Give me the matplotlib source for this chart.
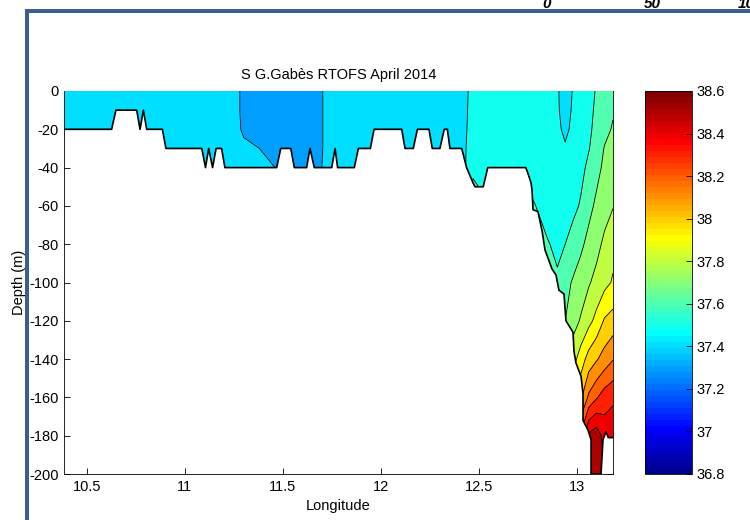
import numpy as np
import matplotlib
matplotlib.use("Agg")
import matplotlib.pyplot as plt
from matplotlib.colors import ListedColormap, Normalize
from matplotlib.patches import Polygon, Rectangle
from matplotlib.cm import ScalarMappable

plt.rcParams['font.family'] = ['Liberation Sans', 'DejaVu Sans']
plt.rcParams['axes.unicode_minus'] = False

# ── Section grid: longitude nodes x depth nodes ──────────────────────────────
lon_nodes = [10.383, 11.0, 11.26, 11.30, 11.40, 11.50, 11.69, 11.72, 12.0, 12.42,
             12.47, 12.60, 12.75, 12.85, 12.90, 12.94, 12.98, 13.02, 13.06, 13.10,
             13.14, 13.184]
depth_nodes = [0, -10, -20, -30, -40, -60, -80, -100, -120, -140, -160, -180, -200]

# salinity, one row per depth node
sal_0    = [37.45, 37.45, 37.45, 37.35, 37.35, 37.35, 37.36, 37.45, 37.45, 37.45, 37.55,
            37.55, 37.54, 37.53, 37.51, 37.46, 37.505, 37.53, 37.56, 37.61, 37.64, 37.67]
sal_10   = [37.45, 37.45, 37.45, 37.35, 37.35, 37.35, 37.36, 37.45, 37.45, 37.46, 37.55,
            37.55, 37.54, 37.53, 37.51, 37.47, 37.51, 37.535, 37.57, 37.62, 37.655, 37.69]
sal_20   = [37.45, 37.45, 37.45, 37.37, 37.35, 37.35, 37.36, 37.45, 37.45, 37.47, 37.55,
            37.55, 37.54, 37.53, 37.52, 37.48, 37.52, 37.545, 37.58, 37.63, 37.67, 37.71]
sal_30   = [37.45, 37.45, 37.45, 37.44, 37.39, 37.35, 37.36, 37.45, 37.45, 37.48, 37.55,
            37.55, 37.54, 37.53, 37.53, 37.51, 37.54, 37.56, 37.595, 37.64, 37.705, 37.73]
sal_40   = [37.45, 37.45, 37.45, 37.45, 37.43, 37.38, 37.38, 37.45, 37.45, 37.48, 37.56,
            37.55, 37.55, 37.53, 37.53, 37.53, 37.55, 37.575, 37.62, 37.67, 37.72, 37.75]
sal_60   = [37.45, 37.45, 37.45, 37.45, 37.43, 37.38, 37.38, 37.45, 37.45, 37.48, 37.70,
            37.56, 37.64, 37.54, 37.54, 37.55, 37.575, 37.61, 37.67, 37.72, 37.76, 37.795]
sal_80   = [37.45, 37.45, 37.45, 37.45, 37.43, 37.38, 37.38, 37.45, 37.45, 37.48, 37.70,
            37.56, 37.64, 37.61, 37.57, 37.60, 37.64, 37.68, 37.73, 37.77, 37.82, 37.87]
sal_100  = [37.45, 37.45, 37.45, 37.45, 37.43, 37.38, 37.38, 37.45, 37.45, 37.48, 37.70,
            37.56, 37.64, 37.63, 37.62, 37.67, 37.71, 37.75, 37.79, 37.83, 37.87, 37.91]
sal_120  = [37.45, 37.45, 37.45, 37.45, 37.43, 37.38, 37.38, 37.45, 37.45, 37.48, 37.70,
            37.56, 37.64, 37.64, 37.66, 37.70, 37.76, 37.81, 37.87, 37.93, 38.01, 38.04]
sal_140  = [37.45, 37.45, 37.45, 37.45, 37.43, 37.38, 37.38, 37.45, 37.45, 37.48, 37.70,
            37.56, 37.64, 37.64, 37.72, 37.78, 37.86, 37.95, 38.04, 38.09, 38.14, 38.195]
sal_160  = [37.45, 37.45, 37.45, 37.45, 37.43, 37.38, 37.38, 37.45, 37.45, 37.48, 37.70,
            37.56, 37.64, 37.64, 37.85, 37.92, 38.00, 38.08, 38.22, 38.29, 38.35, 38.38]
sal_180  = [37.45, 37.45, 37.45, 37.45, 37.43, 37.38, 37.38, 37.45, 37.45, 37.48, 37.70,
            37.56, 37.64, 37.64, 38.00, 38.10, 38.20, 38.32, 38.52, 38.56, 38.46, 38.47]
sal_200  = [37.45, 37.45, 37.45, 37.45, 37.43, 37.38, 37.38, 37.45, 37.45, 37.48, 37.70,
            37.56, 37.64, 37.64, 38.10, 38.20, 38.30, 38.42, 38.56, 38.58, 38.50, 38.48]

# ── Bottom profile (sea floor along the section) ─────────────────────────────
bathy_lon = [10.383, 10.626, 10.648, 10.754, 10.771, 10.788, 10.805, 10.885, 10.903,
             11.086, 11.105, 11.121, 11.141, 11.159, 11.187, 11.204, 11.468, 11.489,
             11.540, 11.558, 11.621, 11.638, 11.660, 11.749, 11.766, 11.779, 11.864,
             11.885, 11.946, 11.965, 12.106, 12.123, 12.165, 12.186, 12.245, 12.262,
             12.301, 12.323, 12.339, 12.352, 12.412, 12.437, 12.470, 12.480, 12.522,
             12.545, 12.739, 12.750, 12.766, 12.771, 12.776, 12.801, 12.822, 12.837,
             12.873, 12.893, 12.908, 12.934, 12.944, 12.980, 12.985, 12.995, 13.021,
             13.031, 13.031, 13.056, 13.072, 13.072, 13.123, 13.133, 13.148, 13.160,
             13.184]
bathy_depth = [-20, -20, -10, -10, -20, -10, -20, -20, -30,
               -30, -40, -30, -40, -30, -30, -40, -40, -30,
               -30, -40, -40, -30, -40, -40, -30, -40, -40,
               -30, -30, -20, -20, -30, -30, -20, -20, -30,
               -30, -20, -20, -30, -30, -40, -48, -50, -50,
               -40, -40, -43, -48, -52, -62, -63, -73, -83,
               -93, -96, -104, -106, -120, -126, -136, -142, -149,
               -158, -172, -177, -182, -200, -200, -182, -178, -181,
               -181]

levels = [37.3, 37.4, 37.5, 37.6, 37.7, 37.8, 37.9, 38.0, 38.1, 38.2, 38.3, 38.4, 38.5, 38.6]
cbar_ticks = [36.8, 37.0, 37.2, 37.4, 37.6, 37.8, 38.0, 38.2, 38.4, 38.6]
cbar_labels = ['36.8', '37', '37.2', '37.4', '37.6', '37.8', '38', '38.2', '38.4', '38.6']
x_ticks = [10.5, 11, 11.5, 12, 12.5, 13]
x_labels = ['10.5', '11', '11.5', '12', '12.5', '13']
y_ticks = [0, -20, -40, -60, -80, -100, -120, -140, -160, -180, -200]


# ── MATLAB style jet(64) ─────────────────────────────────────────────────────
def matlab_jet(m=64):
    n = m // 4
    u = np.concatenate([np.arange(1, n + 1) / n, np.ones(n - 1), np.arange(n, 0, -1) / n])
    g = n // 2 + np.arange(1, len(u) + 1)
    r, b = g + n, g - n
    rgb = np.zeros((m, 3))
    for ch, idx in enumerate([r, g, b]):
        ok = (idx >= 1) & (idx <= m)
        rgb[idx[ok] - 1, ch] = u[ok]
    return ListedColormap(rgb)


cmap = matlab_jet()
norm = Normalize(36.8, 38.6)
band_colors = [cmap(norm(v)) for v in levels[:-1]]

S = np.array([sal_0, sal_10, sal_20, sal_30, sal_40, sal_60, sal_80, sal_100,
              sal_120, sal_140, sal_160, sal_180, sal_200])

fig = plt.figure(figsize=(7.5, 5.2), dpi=100)
ax = fig.add_axes([64 / 750, 46 / 520, 549 / 750, 383 / 520])
ax.set_axisbelow(True)

water = Polygon([(bathy_lon[0], 0)] + list(zip(bathy_lon, bathy_depth)) + [(bathy_lon[-1], 0)],
                closed=True, transform=ax.transData)

cf = ax.contourf(lon_nodes, depth_nodes, S, levels=levels, colors=band_colors, zorder=1)
cf.set_clip_path(water)
cl = ax.contour(lon_nodes, depth_nodes, S, levels=levels, colors='k', linewidths=0.6, zorder=2)
cl.set_clip_path(water)
ax.plot(bathy_lon, bathy_depth, color='k', lw=1.2, zorder=3)

ax.set_xlim(10.383, 13.184)
ax.set_ylim(-200, 0)
ax.set_xticks(x_ticks)
ax.set_xticklabels(x_labels)
ax.set_yticks(y_ticks)
ax.set_yticklabels([str(v) for v in y_ticks])
ax.tick_params(direction='in', top=True, right=True, length=4, width=0.6,
               labelsize=10.5, pad=4)
for side in ['top', 'right']:
    ax.spines[side].set_zorder(0.5)
for sp in ax.spines.values():
    sp.set_linewidth(0.6)

ax.set_xlabel('Longitude', fontsize=10.5, labelpad=4)
ax.set_ylabel('Depth (m)', fontsize=10.5, labelpad=2)
fig.text(338.5 / 750, 1 - 79 / 520, 'S G.Gabès RTOFS April 2014', ha='center',
         va='baseline', fontsize=10.5)

# ── Colorbar ─────────────────────────────────────────────────────────────────
cax = fig.add_axes([645 / 750, 46 / 520, 47 / 750, 383 / 520])
sm = ScalarMappable(norm=norm, cmap=cmap)
cb = fig.colorbar(sm, cax=cax, ticks=cbar_ticks)
cb.ax.set_yticklabels(cbar_labels)
cb.ax.tick_params(direction='in', length=4, width=0.6, labelsize=10.5, pad=3)
cb.outline.set_linewidth(0.6)

# ── Screenshot frame and cut-off scale labels ────────────────────────────────
frame_col = '#3C5F8E'
fig.add_artist(Rectangle((25 / 750, 0), 4 / 750, 511 / 520, transform=fig.transFigure,
                         color=frame_col, lw=0))
fig.add_artist(Rectangle((25 / 750, 507 / 520), 725 / 750, 4 / 520, transform=fig.transFigure,
                         color=frame_col, lw=0))
for txt, xp in [('0', 547), ('50', 652), ('100', 751)]:
    fig.text(xp / 750, 1 - 8 / 520, txt, ha='center', va='baseline', fontsize=11,
             fontweight='bold', style='italic')

fig.savefig('out.png', dpi=100)
